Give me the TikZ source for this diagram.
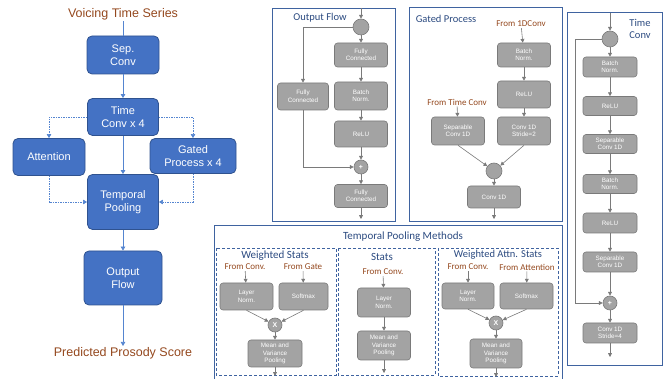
\documentclass[tikz,border=0pt]{standalone}
\usepackage{fontspec}
\setmainfont{Liberation Sans}
\newfontfamily\calfont{Carlito}
\usetikzlibrary{arrows.meta}
\definecolor{bluebox}{HTML}{4472C4}
\definecolor{blueedge}{HTML}{2F528F}
\definecolor{arrowblue}{HTML}{5585D0}
\definecolor{graybox}{HTML}{A3A3A3}
\definecolor{grayedge}{HTML}{7A7A7A}
\definecolor{brownish}{HTML}{94481E}
\definecolor{headblue}{HTML}{2B4A80}
\definecolor{frameblue}{HTML}{3F63A0}

\begin{document}
\begin{tikzpicture}[x=1pt,y=-1pt,
        title/.style={text=brownish,font=\fontsize{12.5}{14}\selectfont,inner sep=1pt},
        bbox/.style={draw=blueedge,fill=bluebox,line width=0.8pt,rounded corners=5pt,text=white,align=center,font=\fontsize{11}{13}\selectfont},
        gbox/.style={draw=grayedge,fill=graybox,line width=0.6pt,rounded corners=3pt,text=white,align=center,font=\fontsize{6.3}{7.5}\selectfont,minimum width=53pt,inner sep=1pt},
        gdot/.style={circle,draw=grayedge,fill=graybox,line width=0.6pt,minimum size=16pt,inner sep=0pt,text=white,font=\fontsize{7}{8}\selectfont\bfseries},
        src/.style={text=brownish,font=\calfont\fontsize{9}{10}\selectfont,inner sep=1pt},
        head/.style={text=headblue,font=\calfont\fontsize{10.5}{12}\selectfont,align=center,inner sep=1pt},
        bighead/.style={head,font=\calfont\fontsize{11}{12}\selectfont},
        barrow/.style={draw=arrowblue,line width=0.7pt,-{Triangle[length=4pt,width=4.5pt]}},
        darrow/.style={barrow,dash pattern=on 1.5pt off 1pt,line width=0.6pt},
        garrow/.style={draw=grayedge,line width=0.6pt,-{Triangle[length=3.8pt,width=3.8pt]}},
        frame/.style={draw=frameblue,line width=0.8pt},
        dframe/.style={draw=frameblue,line width=0.8pt,dash pattern=on 3pt off 2pt}]
\useasboundingbox (0,0) rectangle (665,379);

\node[title] (vts) at (123,14) {Voicing Time Series};
\node[bbox,minimum width=72pt,minimum height=38pt] (sep) at (123,55) {Sep.\\Conv};
\node[bbox,minimum width=71pt,minimum height=37pt] (tc) at (123,117) {Time\\Conv x 4};
\node[bbox,minimum width=72pt,minimum height=37pt] (att) at (49,157) {Attention};
\node[bbox,minimum width=86pt,minimum height=35pt] (gp) at (193,156) {Gated\\Process x 4};
\node[bbox,minimum width=71pt,minimum height=55pt] (tp) at (123,202) {Temporal\\Pooling};
\node[bbox,minimum width=78pt,minimum height=54pt] (of) at (123,278) {Output\\Flow};
\node[title] (pps) at (123,353) {Predicted Prosody Score};
\draw[barrow,-] (vts) -- (sep);
\draw[barrow] (sep) -- (tc);
\draw[barrow] (tc) -- (tp);
\draw[barrow] (tp) -- (of);
\draw[barrow] (of) -- (pps);
\draw[darrow] (tc.west) -| (att);
\draw[darrow] (tc.east) -| (gp);
\draw[darrow] (att) |- (tp.west);
\draw[darrow] (gp) |- (tp.east);

\draw[frame] (272,8) rectangle (395,221);
\node[head] (oft) at (320,18) {Output Flow};
\coordinate (ofin) at (361,8);
\coordinate (ofout) at (361,219);
\node[gdot] (ofc) at (361,27) {};
\node[gbox,minimum height=24pt] (fc1) at (361,55) {Fully\\Connected};
\node[gbox,minimum height=28pt] (bn1) at (361,96) {Batch\\Norm.};
\node[gbox,minimum height=26pt] (rl1) at (361,134) {ReLU};
\node[gdot,minimum size=14pt] (pl1) at (361,167) {+};
\node[gbox,minimum height=23pt] (fc2) at (361,196) {Fully\\Connected};
\node[gbox,minimum width=51pt,minimum height=27pt] (lfc) at (303,96.5) {Fully\\Connected};
\draw[garrow] (ofin) -- (ofc);
\draw[garrow] (ofc) -- (fc1);
\draw[garrow] (fc1) -- (bn1);
\draw[garrow] (bn1) -- (rl1);
\draw[garrow] (rl1) -- (pl1);
\draw[garrow] (pl1) -- (fc2);
\draw[garrow] (fc2) -- (ofout);
\draw[garrow] (ofc.west) -| (lfc);
\draw[garrow] (lfc) |- (pl1.west);

\draw[frame] (409,7) rectangle (562,221);
\node[head] (gpt) at (446,19) {Gated Process};
\node[src] (f1d) at (521,24) {From 1DConv};
\node[src] (ftc) at (457,102) {From Time Conv};
\node[gbox,minimum height=24pt] (bn2) at (524,55) {Batch\\Norm.};
\node[gbox,minimum height=27pt] (rl2) at (524,94.5) {ReLU};
\node[gbox,minimum height=28pt] (cs2) at (524,131) {Conv 1D\\Stride=2};
\node[gbox,minimum height=28pt] (sp2) at (458,131) {Separable\\Conv 1D};
\node[gdot] (gc) at (494,171) {};
\node[gbox,minimum height=22pt] (c1d) at (494,197) {Conv 1D};
\coordinate (gpout) at (494,219);
\draw[garrow] (f1d) -- (bn2);
\draw[garrow] (bn2) -- (rl2);
\draw[garrow] (rl2) -- (cs2);
\draw[garrow] (ftc) -- (sp2);
\draw[garrow] (sp2.south) -- (gc);
\draw[garrow] (cs2.south) -- (gc);
\draw[garrow] (gc) -- (c1d);
\draw[garrow] (c1d) -- (gpout);

\draw[frame] (567,12) rectangle (662,365);
\node[head] (tct) at (640,29) {Time\\Conv};
\coordinate (tin) at (610,13);
\coordinate (tout) at (610,357);
\coordinate (tloop) at (575,39);
\node[gdot] (tcc) at (610,39) {};
\node[gbox,minimum width=54pt,minimum height=20pt] (tbn1) at (610,67) {Batch\\Norm.};
\node[gbox,minimum width=54pt,minimum height=19pt] (trl1) at (610,106) {ReLU};
\node[gbox,minimum width=54pt,minimum height=19pt] (tsc1) at (610,144) {Separable\\Conv 1D};
\node[gbox,minimum width=54pt,minimum height=19pt] (tbn2) at (610,184) {Batch\\Norm.};
\node[gbox,minimum width=54pt,minimum height=20pt] (trl2) at (610,223) {ReLU};
\node[gbox,minimum width=54pt,minimum height=20pt] (tsc2) at (610,262) {Separable\\Conv 1D};
\node[gdot,minimum size=14pt] (tpl) at (610,303) {+};
\node[gbox,minimum width=54pt,minimum height=20pt] (tcs) at (610,333) {Conv 1D\\Stride=4};
\draw[garrow] (tin) -- (tcc);
\draw[garrow] (tcc) -- (tbn1);
\draw[garrow] (tbn1) -- (trl1);
\draw[garrow] (trl1) -- (tsc1);
\draw[garrow] (tsc1) -- (tbn2);
\draw[garrow] (tbn2) -- (trl2);
\draw[garrow] (trl2) -- (tsc2);
\draw[garrow] (tsc2) -- (tpl);
\draw[garrow] (tpl) -- (tcs);
\draw[garrow] (tcs) -- (tout);
\draw[garrow] (tcc.west) -- (tloop) |- (tpl.west);

\draw[frame] (214,381) |- (562,225) -- (562,381);
\node[bighead] (tpm) at (403,237) {Temporal Pooling Methods};
\draw[dframe] (216,248) rectangle (336,375);
\draw[dframe] (338,248) rectangle (435,375);
\draw[dframe] (438,248) rectangle (558,376);

\node[bighead] (wst) at (275,256) {Weighted Stats};
\node[src] (wsc) at (245,267) {From Conv.};
\node[src] (wsg) at (303,267) {From Gate};
\node[gbox,minimum height=27pt] (ln1) at (246.5,296.5) {Layer\\Norm.};
\node[gbox,minimum width=49pt,minimum height=27pt] (sm1) at (303.5,296.5) {Softmax};
\node[gdot,minimum size=14pt] (x1) at (275,325) {X};
\node[gbox,minimum width=54pt,minimum height=27pt] (mv1) at (275,353.5) {Mean and\\Variance\\Pooling};
\coordinate (wsout) at (275,376);
\draw[garrow] (wsc) -- (ln1);
\draw[garrow] (wsg) -- (sm1);
\draw[garrow] (ln1.south) -- (x1);
\draw[garrow] (sm1.south) -- (x1);
\draw[garrow] (x1) -- (mv1);
\draw[garrow] (mv1) -- (wsout);

\node[bighead] (stt) at (382,257) {Stats};
\node[src] (stc) at (383,272) {From Conv.};
\node[gbox,minimum height=29pt] (ln2) at (384,302.5) {Layer\\Norm.};
\node[gbox,minimum height=29pt] (mv2) at (384,345.5) {Mean and\\Variance\\Pooling};
\coordinate (stout) at (384,373);
\draw[garrow] (stc) -- (ln2);
\draw[garrow] (ln2) -- (mv2);
\draw[garrow] (mv2) -- (stout);

\node[head] (wat) at (498,255) {Weighted Attn. Stats};
\node[src] (wac) at (468,267) {From Conv.};
\node[src] (waa) at (527,267) {From Attention};
\node[gbox,minimum width=52pt,minimum height=26pt] (ln3) at (468,296) {Layer\\Norm.};
\node[gbox,minimum height=26pt] (sm3) at (526.5,296) {Softmax};
\node[gdot,minimum size=14pt] (x3) at (496,323) {X};
\node[gbox,minimum width=52pt,minimum height=29pt] (mv3) at (496,353.5) {Mean and\\Variance\\Pooling};
\coordinate (waout) at (496,377);
\draw[garrow] (wac) -- (ln3);
\draw[garrow] (waa) -- (sm3);
\draw[garrow] (ln3.south) -- (x3);
\draw[garrow] (sm3.south) -- (x3);
\draw[garrow] (x3) -- (mv3);
\draw[garrow] (mv3) -- (waout);
\end{tikzpicture}
\end{document}
